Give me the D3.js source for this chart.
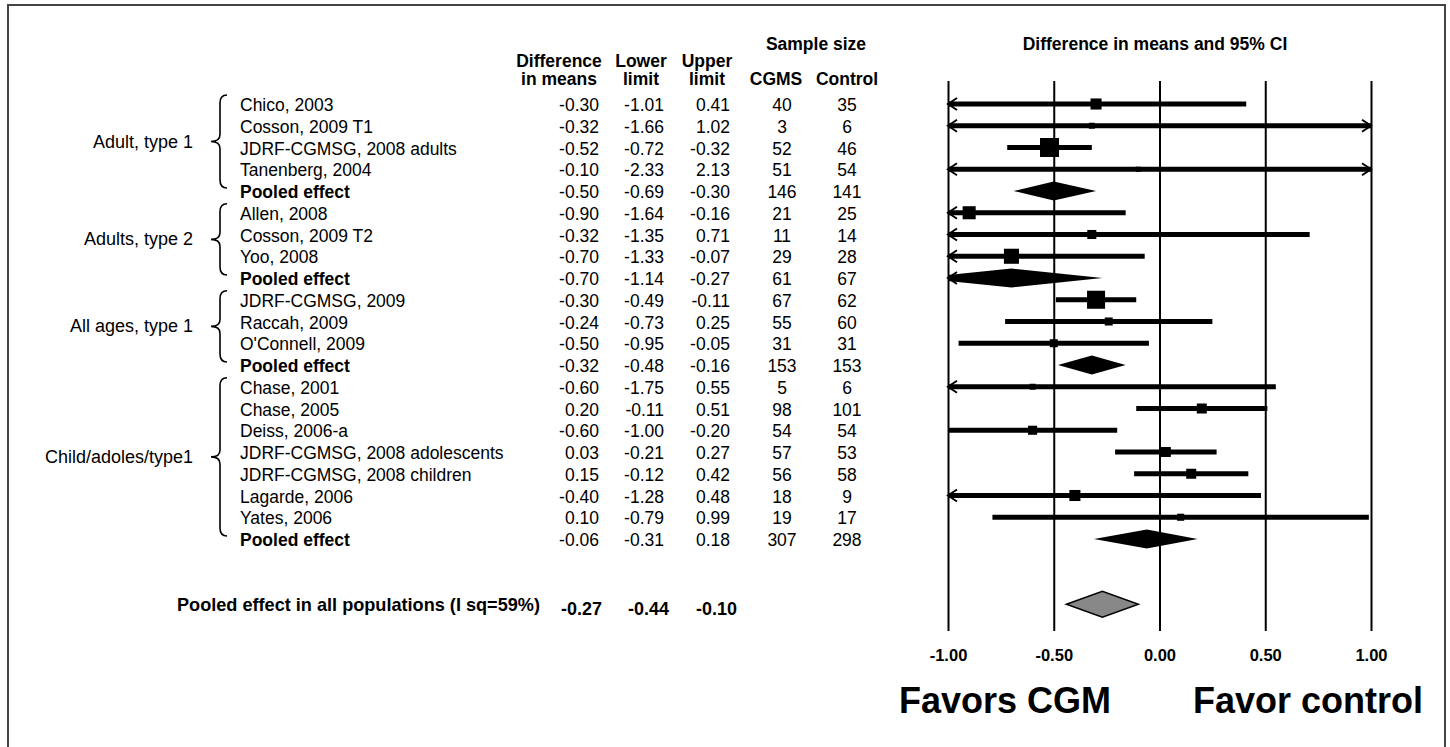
<!DOCTYPE html>
<html lang="en">
<head>
<meta charset="UTF-8">
<title>Forest plot: CGM vs control</title>
<script src="https://cdnjs.cloudflare.com/ajax/libs/d3/7.8.5/d3.min.js"></script>
<style>
  body { margin: 0; background: #fff; }
  svg { font-family: "Liberation Sans", Arial, sans-serif; }
</style>
</head>
<body>
<div id="chart"></div>
<script>
// rows of the forest plot, top to bottom
const studies = ["Chico, 2003", "Cosson, 2009 T1", "JDRF-CGMSG, 2008 adults", "Tanenberg, 2004", "Pooled effect",
  "Allen, 2008", "Cosson, 2009 T2", "Yoo, 2008", "Pooled effect",
  "JDRF-CGMSG, 2009", "Raccah, 2009", "O'Connell, 2009", "Pooled effect",
  "Chase, 2001", "Chase, 2005", "Deiss, 2006-a", "JDRF-CGMSG, 2008 adolescents", "JDRF-CGMSG, 2008 children",
  "Lagarde, 2006", "Yates, 2006", "Pooled effect"];
const pooled = [0,0,0,0,1, 0,0,0,1, 0,0,0,1, 0,0,0,0,0,0,0,1];
const diffs  = [-0.30,-0.32,-0.52,-0.10,-0.50, -0.90,-0.32,-0.70,-0.70, -0.30,-0.24,-0.50,-0.32, -0.60,0.20,-0.60,0.03,0.15,-0.40,0.10,-0.06];
const lowers = [-1.01,-1.66,-0.72,-2.33,-0.69, -1.64,-1.35,-1.33,-1.14, -0.49,-0.73,-0.95,-0.48, -1.75,-0.11,-1.00,-0.21,-0.12,-1.28,-0.79,-0.31];
const uppers = [0.41,1.02,-0.32,2.13,-0.30, -0.16,0.71,-0.07,-0.27, -0.11,0.25,-0.05,-0.16, 0.55,0.51,-0.20,0.27,0.42,0.48,0.99,0.18];
const nCgms    = [40,3,52,51,146, 21,11,29,61, 67,55,31,153, 5,98,54,57,56,18,19,307];
const nControl = [35,6,46,54,141, 25,14,28,67, 62,60,31,153, 6,101,54,53,58,9,17,298];
// relative weights (%) estimated from the square sizes
const weights = [6.1,1.8,18,1.3,null, 8.5,4.1,11.3,null, 16.2,3.2,3.2,null, 1.8,5,4.1,5,5,6.1,2.5,null];

const groupLabels = ["Adult, type 1", "Adults, type 2", "All ages, type 1", "Child/adoles/type1"];
const groupFirst = [0, 5, 9, 13];
const groupLast = [4, 8, 12, 20];

const overallLabel = "Pooled effect in all populations (I sq=59%)";
const overall = { diff: -0.27, lower: -0.44, upper: -0.10 };

const tickValues = [-1, -0.5, 0, 0.5, 1];

const W = 1450, H = 747;
// plain hyphen for negatives, like the original
const fmt = d3.formatLocale({ decimal: ".", thousands: ",", grouping: [3], currency: ["", ""], minus: "-" }).format(".2f");
const fs = 17.5;

const svg = d3.select("#chart").append("svg")
  .attr("width", W).attr("height", H);

svg.append("rect")
  .attr("x", 8).attr("y", 5).attr("width", 1437).attr("height", 760)
  .attr("fill", "none").attr("stroke", "#444").attr("stroke-width", 2);

const x = d3.scaleLinear().domain([-1, 1]).range([948, 1371]);
const y = d3.scaleLinear().domain([0, 20]).range([104, 539]);
const size = d3.scaleSqrt().domain([0, 18]).range([0, 19]);
const gridTop = 81, gridBottom = 631;

// column headers
const head = svg.append("g").attr("font-weight", "bold").attr("font-size", fs).attr("text-anchor", "middle");
[["Difference", 559, 67], ["in means", 559, 85], ["Lower", 641, 67], ["limit", 641, 85],
 ["Upper", 707, 67], ["limit", 707, 85], ["Sample size", 816, 50], ["CGMS", 776, 85], ["Control", 847, 85]]
  .forEach(h => head.append("text").attr("x", h[1]).attr("y", h[2]).text(h[0]));

svg.append("text")
  .attr("x", 1155).attr("y", 50)
  .attr("text-anchor", "middle").attr("font-weight", "bold").attr("font-size", fs)
  .text("Difference in means and 95% CI");

// gridlines + tick labels
const axis = svg.append("g")
  .attr("transform", `translate(0,${gridBottom})`)
  .call(d3.axisBottom(x).tickValues(tickValues).tickFormat(fmt)
    .tickSize(-(gridBottom - gridTop)).tickPadding(18));
axis.select(".domain").remove();
axis.selectAll(".tick line").attr("stroke", "#000").attr("stroke-width", 2);
axis.selectAll(".tick text")
  .attr("font-family", "Liberation Sans, Arial, sans-serif")
  .attr("font-size", 16.5).attr("font-weight", "bold").attr("fill", "#000");

// text columns
const rows = svg.append("g").attr("font-size", fs);
studies.forEach((s, i) => {
  const by = y(i) + 7;
  const bold = pooled[i] ? "bold" : "normal";
  rows.append("text").attr("x", 240).attr("y", by).attr("font-weight", bold).text(s);
  rows.append("text").attr("x", 599).attr("y", by).attr("text-anchor", "end").text(fmt(diffs[i]));
  rows.append("text").attr("x", 664).attr("y", by).attr("text-anchor", "end").text(fmt(lowers[i]));
  rows.append("text").attr("x", 730).attr("y", by).attr("text-anchor", "end").text(fmt(uppers[i]));
  rows.append("text").attr("x", 782).attr("y", by).attr("text-anchor", "middle").text(nCgms[i]);
  rows.append("text").attr("x", 847).attr("y", by).attr("text-anchor", "middle").text(nControl[i]);
});

// group braces and labels
groupLabels.forEach((g, k) => {
  const top = y(groupFirst[k]) - 9;
  const bot = y(groupLast[k]) - 3;
  const mid = (top + bot) / 2;
  const bx = 220;
  const p = d3.path();
  p.moveTo(bx + 7, top);
  p.quadraticCurveTo(bx, top, bx, top + 8);
  p.lineTo(bx, mid - 7);
  p.quadraticCurveTo(bx, mid, bx - 9, mid);
  p.quadraticCurveTo(bx, mid, bx, mid + 7);
  p.lineTo(bx, bot - 8);
  p.quadraticCurveTo(bx, bot, bx + 7, bot);
  svg.append("path").attr("d", p.toString())
    .attr("fill", "none").attr("stroke", "#000").attr("stroke-width", 1.6);
  svg.append("text")
    .attr("x", 193).attr("y", mid + 6)
    .attr("text-anchor", "end").attr("font-size", 18)
    .text(g);
});

// forest marks
svg.append("clipPath").attr("id", "plotclip")
  .append("rect").attr("x", x(-1)).attr("y", 0).attr("width", x(1) - x(-1)).attr("height", H);
const marks = svg.append("g");
const clipped = marks.append("g").attr("clip-path", "url(#plotclip)");
const lo = x.domain()[0], hi = x.domain()[1];

function arrow(xv, yy, dir) {
  const x0 = x(xv);
  marks.append("path")
    .attr("d", `M${x0 - dir * 9},${yy - 6}L${x0},${yy}L${x0 - dir * 9},${yy + 6}`)
    .attr("fill", "none").attr("stroke", "#000").attr("stroke-width", 2);
}

function diamond(g, d, l, u, yy, h) {
  return g.append("path")
    .attr("d", `M${x(l)},${yy}L${x(d)},${yy - h}L${x(u)},${yy}L${x(d)},${yy + h}Z`);
}

studies.forEach((s, i) => {
  const yy = y(i);
  if (pooled[i]) {
    diamond(clipped, diffs[i], lowers[i], uppers[i], yy, 9.5).attr("fill", "#000");
  } else {
    marks.append("line")
      .attr("x1", x(Math.max(lowers[i], lo))).attr("x2", x(Math.min(uppers[i], hi)))
      .attr("y1", yy).attr("y2", yy)
      .attr("stroke", "#000").attr("stroke-width", 5);
    const s2 = size(weights[i]);
    marks.append("rect")
      .attr("x", x(diffs[i]) - s2 / 2).attr("y", yy - s2 / 2)
      .attr("width", s2).attr("height", s2).attr("fill", "#000");
  }
  if (lowers[i] < lo) arrow(lo, yy, -1);
  if (uppers[i] > hi) arrow(hi, yy, 1);
});

// overall pooled effect
const yo = y(23);
diamond(marks, overall.diff, overall.lower, overall.upper, yo, 13)
  .attr("fill", "#888").attr("stroke", "#000").attr("stroke-width", 1.5);

const ov = svg.append("g").attr("font-weight", "bold").attr("font-size", 19);
ov.append("text").attr("x", 177).attr("y", yo + 7)
  .attr("textLength", 363).attr("lengthAdjust", "spacingAndGlyphs").text(overallLabel);
[[overall.diff, 602], [overall.lower, 669], [overall.upper, 737]].forEach(v => {
  ov.append("text").attr("x", v[1]).attr("y", yo + 11).attr("text-anchor", "end")
    .attr("textLength", 41).attr("lengthAdjust", "spacingAndGlyphs").text(fmt(v[0]));
});

// favour labels
svg.append("text").attr("x", 899).attr("y", 713)
  .attr("font-weight", "bold").attr("font-size", 36).text("Favors CGM");
svg.append("text").attr("x", 1423).attr("y", 713).attr("text-anchor", "end")
  .attr("font-weight", "bold").attr("font-size", 36).text("Favor control");
</script>
</body>
</html>
